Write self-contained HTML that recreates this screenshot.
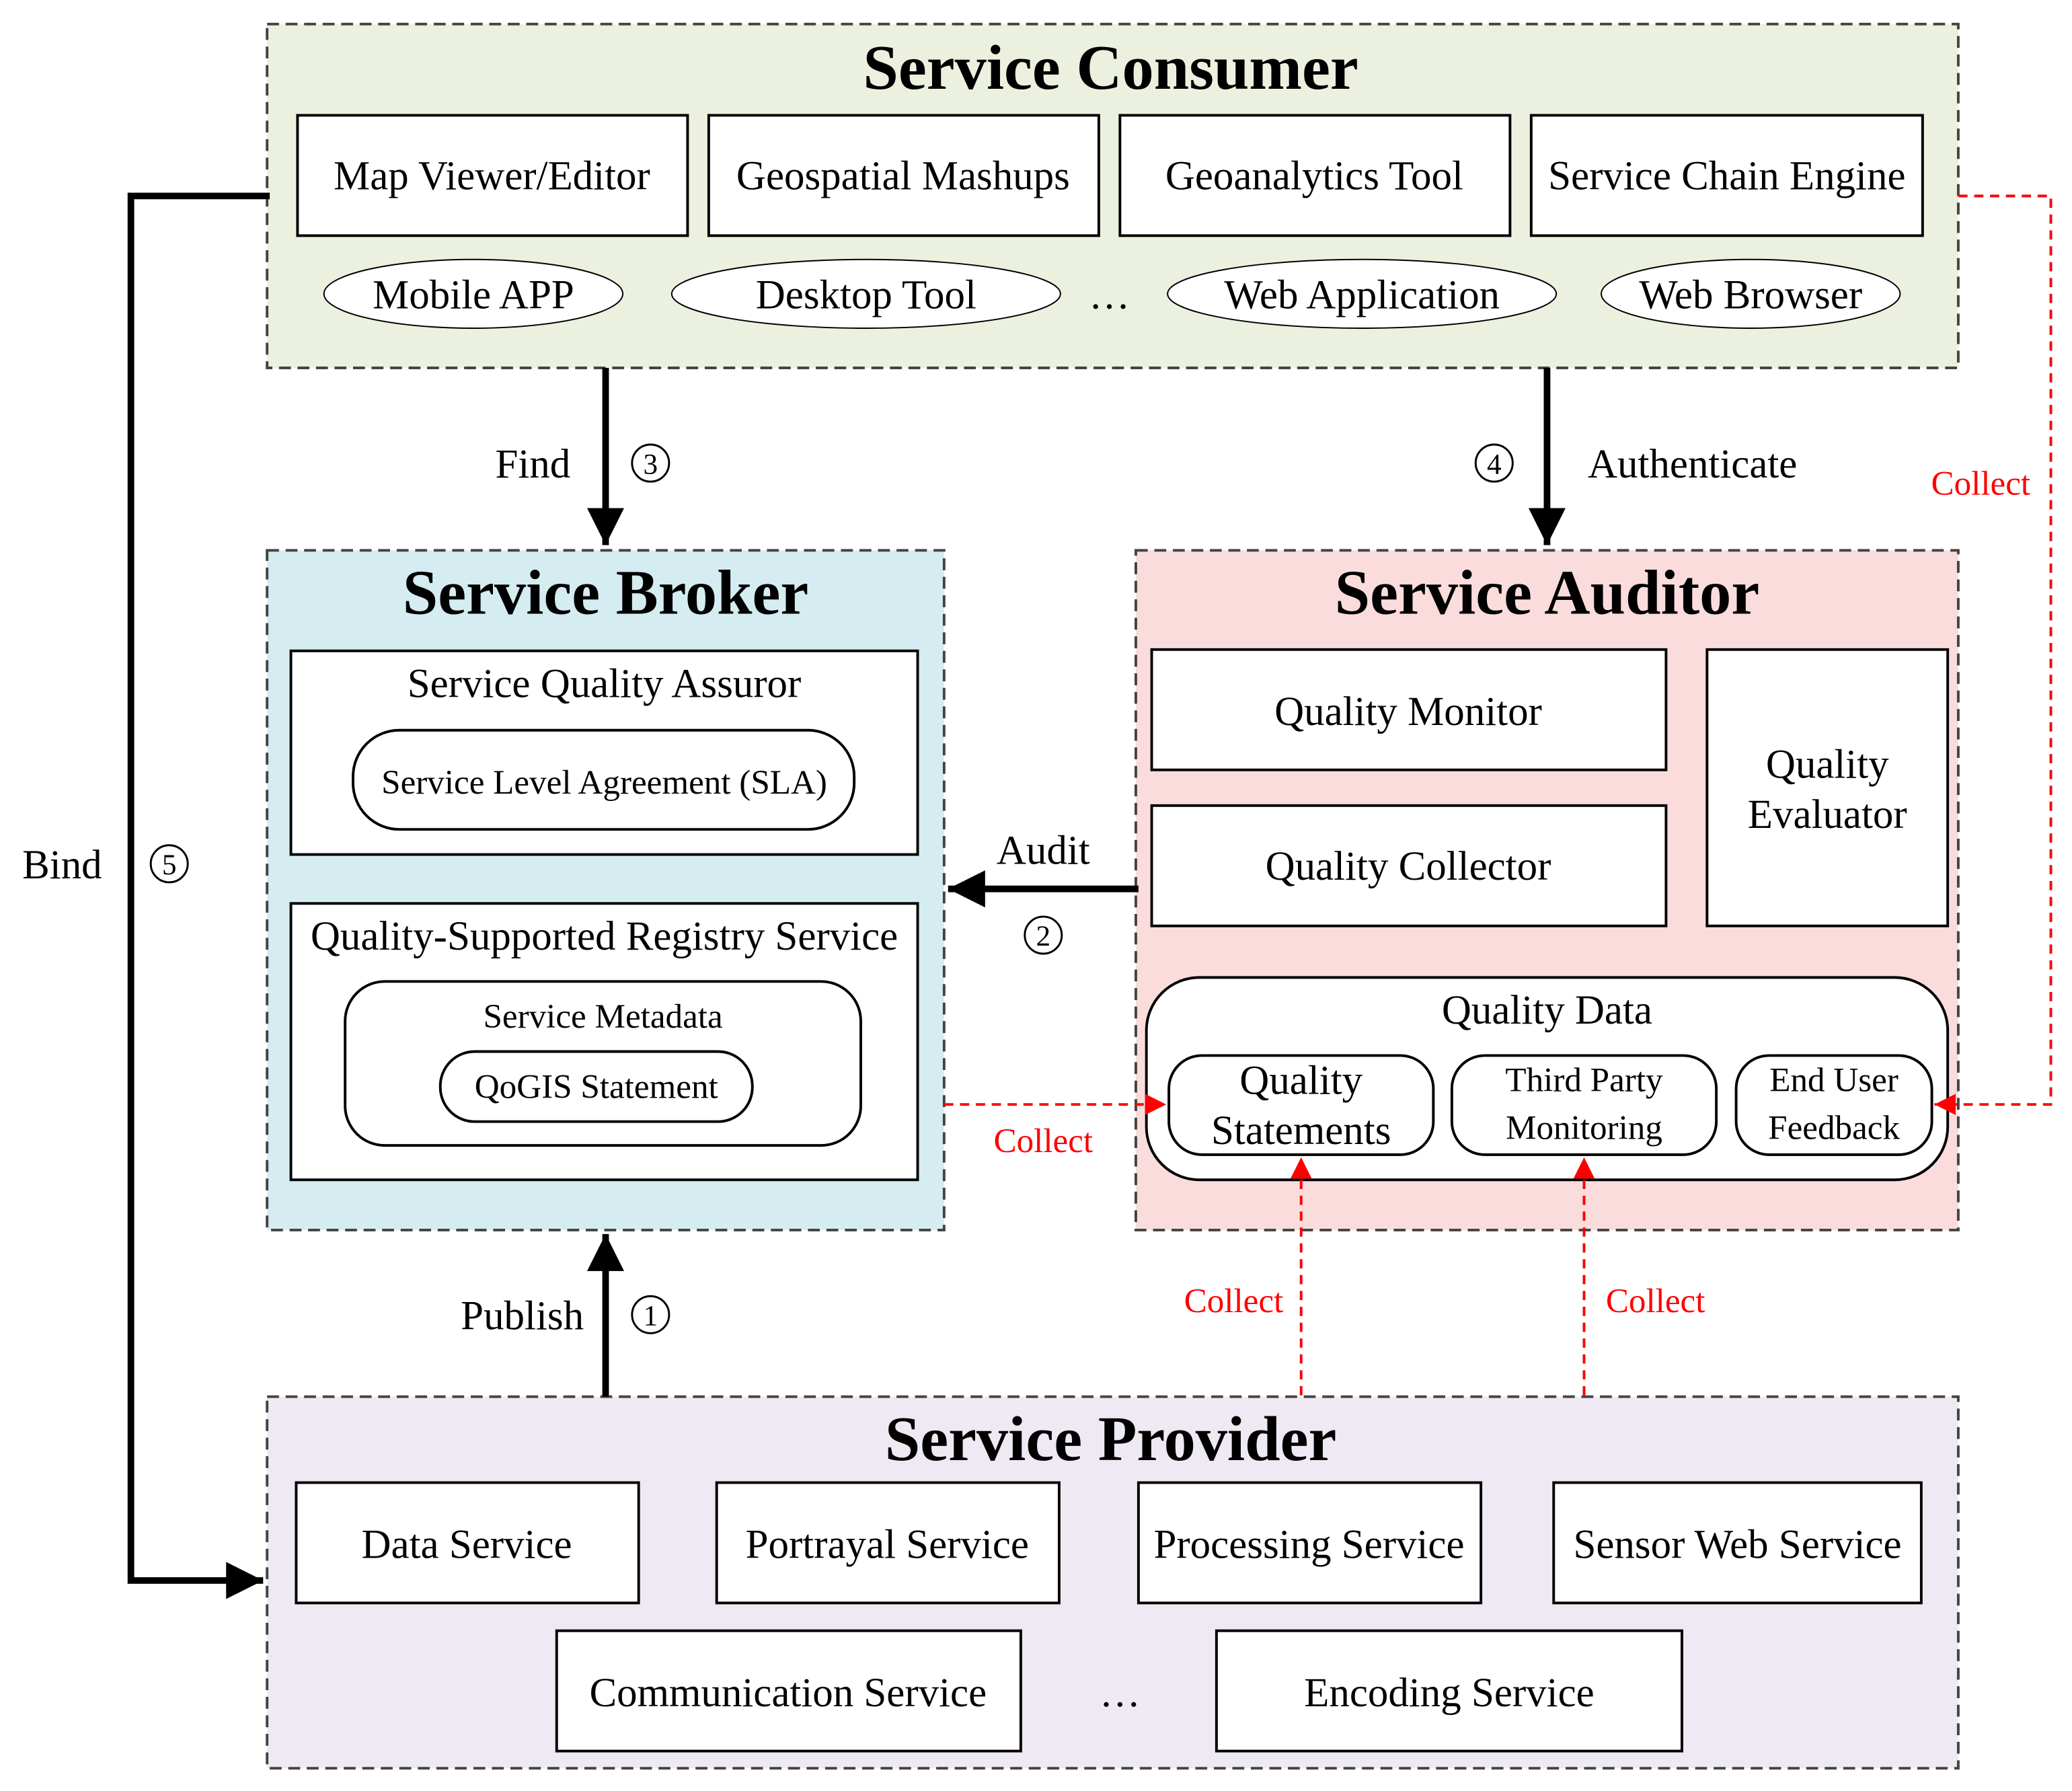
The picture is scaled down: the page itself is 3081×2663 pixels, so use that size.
<!DOCTYPE html>
<html><head><meta charset="utf-8"><style>html,body{margin:0;padding:0;background:#fff}svg{display:block}</style></head><body>
<svg xmlns="http://www.w3.org/2000/svg" width="3081" height="2663" viewBox="0 0 1567 1354" font-family="Liberation Serif, serif">
<defs>
<marker id="abk" viewBox="0 0 10 10" refX="10" refY="5" markerWidth="28" markerHeight="28" orient="auto" markerUnits="userSpaceOnUse"><path d="M0,0 L10,5 L0,10 z" fill="#000"/></marker>
<marker id="ar" viewBox="0 0 10 10" refX="10" refY="5" markerWidth="16" markerHeight="16" orient="auto" markerUnits="userSpaceOnUse"><path d="M0,0 L10,5 L0,10 z" fill="#f00"/></marker>
</defs>
<g stroke="#444" stroke-width="2" stroke-dasharray="9,5">
<rect x="202" y="18" width="1279" height="260" fill="#ebf1de"/>
<rect x="202" y="416" width="512" height="514" fill="#d5ecf1"/>
<rect x="859" y="416" width="622" height="514" fill="#f9dcdb"/>
<rect x="202" y="1056" width="1279" height="281" fill="#eee9f2"/>
</g>
<g font-weight="bold" font-size="48" text-anchor="middle">
<text x="840" y="67">Service Consumer</text>
<text x="458" y="464">Service Broker</text>
<text x="1170" y="464">Service Auditor</text>
<text x="840" y="1104">Service Provider</text>
</g>
<g fill="#fff" stroke="#000" stroke-width="2">
<rect x="225" y="87" width="295" height="91"/><rect x="536" y="87" width="295" height="91"/><rect x="847" y="87" width="295" height="91"/><rect x="1158" y="87" width="296" height="91"/>
<ellipse cx="358" cy="222" rx="113" ry="26" stroke-width="1"/><ellipse cx="655" cy="222" rx="147" ry="26" stroke-width="1"/><ellipse cx="1030" cy="222" rx="147" ry="26" stroke-width="1"/><ellipse cx="1324" cy="222" rx="113" ry="26" stroke-width="1"/>
<rect x="220" y="492" width="474" height="154"/><rect x="267" y="552" width="379" height="75" rx="35"/>
<rect x="220" y="683" width="474" height="209"/><rect x="261" y="742" width="390" height="124" rx="30"/><rect x="333" y="795" width="236" height="53" rx="26"/>
<rect x="871" y="491" width="389" height="91"/><rect x="871" y="609" width="389" height="91"/><rect x="1291" y="491" width="182" height="209"/>
<rect x="867" y="739" width="606" height="153" rx="40"/>
<rect x="884" y="798" width="200" height="75" rx="25"/><rect x="1098" y="798" width="200" height="75" rx="25"/><rect x="1313" y="798" width="148" height="75" rx="25"/>
<rect x="224" y="1121" width="259" height="91"/><rect x="542" y="1121" width="259" height="91"/><rect x="861" y="1121" width="259" height="91"/><rect x="1175" y="1121" width="278" height="91"/>
<rect x="421" y="1233" width="351" height="91"/><rect x="920" y="1233" width="352" height="91"/>
</g>
<g font-size="31" text-anchor="middle">
<text x="372" y="143">Map Viewer/Editor</text><text x="683" y="143">Geospatial Mashups</text><text x="994" y="143">Geoanalytics Tool</text><text x="1306" y="143">Service Chain Engine</text>
<text x="358" y="233">Mobile APP</text><text x="655" y="233">Desktop Tool</text><text x="839" y="233">…</text><text x="1030" y="233">Web Application</text><text x="1324" y="233">Web Browser</text>
<text x="457" y="527">Service Quality Assuror</text><text x="457" y="718">Quality-Supported Registry Service</text>
<text x="1065" y="548">Quality Monitor</text><text x="1065" y="665">Quality Collector</text>
<text x="1382" y="588">Quality</text><text x="1382" y="626">Evaluator</text>
<text x="1170" y="774">Quality Data</text>
<text x="984" y="827">Quality</text><text x="984" y="865">Statements</text>
<text x="353" y="1178">Data Service</text><text x="671" y="1178">Portrayal Service</text><text x="990" y="1178">Processing Service</text><text x="1314" y="1178">Sensor Web Service</text>
<text x="596" y="1290">Communication Service</text><text x="847" y="1290">…</text><text x="1096" y="1290">Encoding Service</text>
<text x="403" y="361">Find</text><text x="1280" y="361">Authenticate</text>
<text x="789" y="653">Audit</text>
<text x="395" y="1005">Publish</text>
<text x="47" y="664">Bind</text>
</g>
<g fill="none" stroke="#000" stroke-width="1.5">
<circle cx="492" cy="350" r="14"/><circle cx="1130" cy="350" r="14"/><circle cx="789" cy="707" r="14"/><circle cx="492" cy="994" r="14"/><circle cx="128" cy="653" r="14"/>
</g>
<g font-size="22" text-anchor="middle">
<text x="492" y="358">3</text><text x="1130" y="358">4</text><text x="789" y="715">2</text><text x="492" y="1002">1</text><text x="128" y="661">5</text>
</g>
<g font-size="26" text-anchor="middle">
<text x="457" y="600">Service Level Agreement (SLA)</text>
<text x="456" y="777">Service Metadata</text><text x="451" y="830">QoGIS Statement</text>
<text x="1198" y="825">Third Party</text><text x="1198" y="861">Monitoring</text>
<text x="1387" y="825">End User</text><text x="1387" y="861">Feedback</text>
</g>
<g font-size="26" text-anchor="middle" fill="#f00">
<text x="789" y="871">Collect</text><text x="1498" y="374">Collect</text><text x="933" y="992">Collect</text><text x="1252" y="992">Collect</text>
</g>
<g stroke="#000" stroke-width="5" fill="none">
<line x1="458" y1="278" x2="458" y2="412" marker-end="url(#abk)"/>
<line x1="1170" y1="278" x2="1170" y2="412" marker-end="url(#abk)"/>
<line x1="861" y1="672" x2="717" y2="672" marker-end="url(#abk)"/>
<line x1="458" y1="1056" x2="458" y2="933" marker-end="url(#abk)"/>
<polyline points="204,148 99,148 99,1195 199,1195" marker-end="url(#abk)"/>
</g>
<g stroke="#f00" stroke-width="2" stroke-dasharray="7,5" fill="none">
<line x1="714" y1="835" x2="882" y2="835" marker-end="url(#ar)"/>
<polyline points="1481,148 1551,148 1551,835 1463,835" marker-end="url(#ar)"/>
<line x1="984" y1="1055" x2="984" y2="875" marker-end="url(#ar)"/>
<line x1="1198" y1="1055" x2="1198" y2="875" marker-end="url(#ar)"/>
</g>
</svg>
</body></html>
